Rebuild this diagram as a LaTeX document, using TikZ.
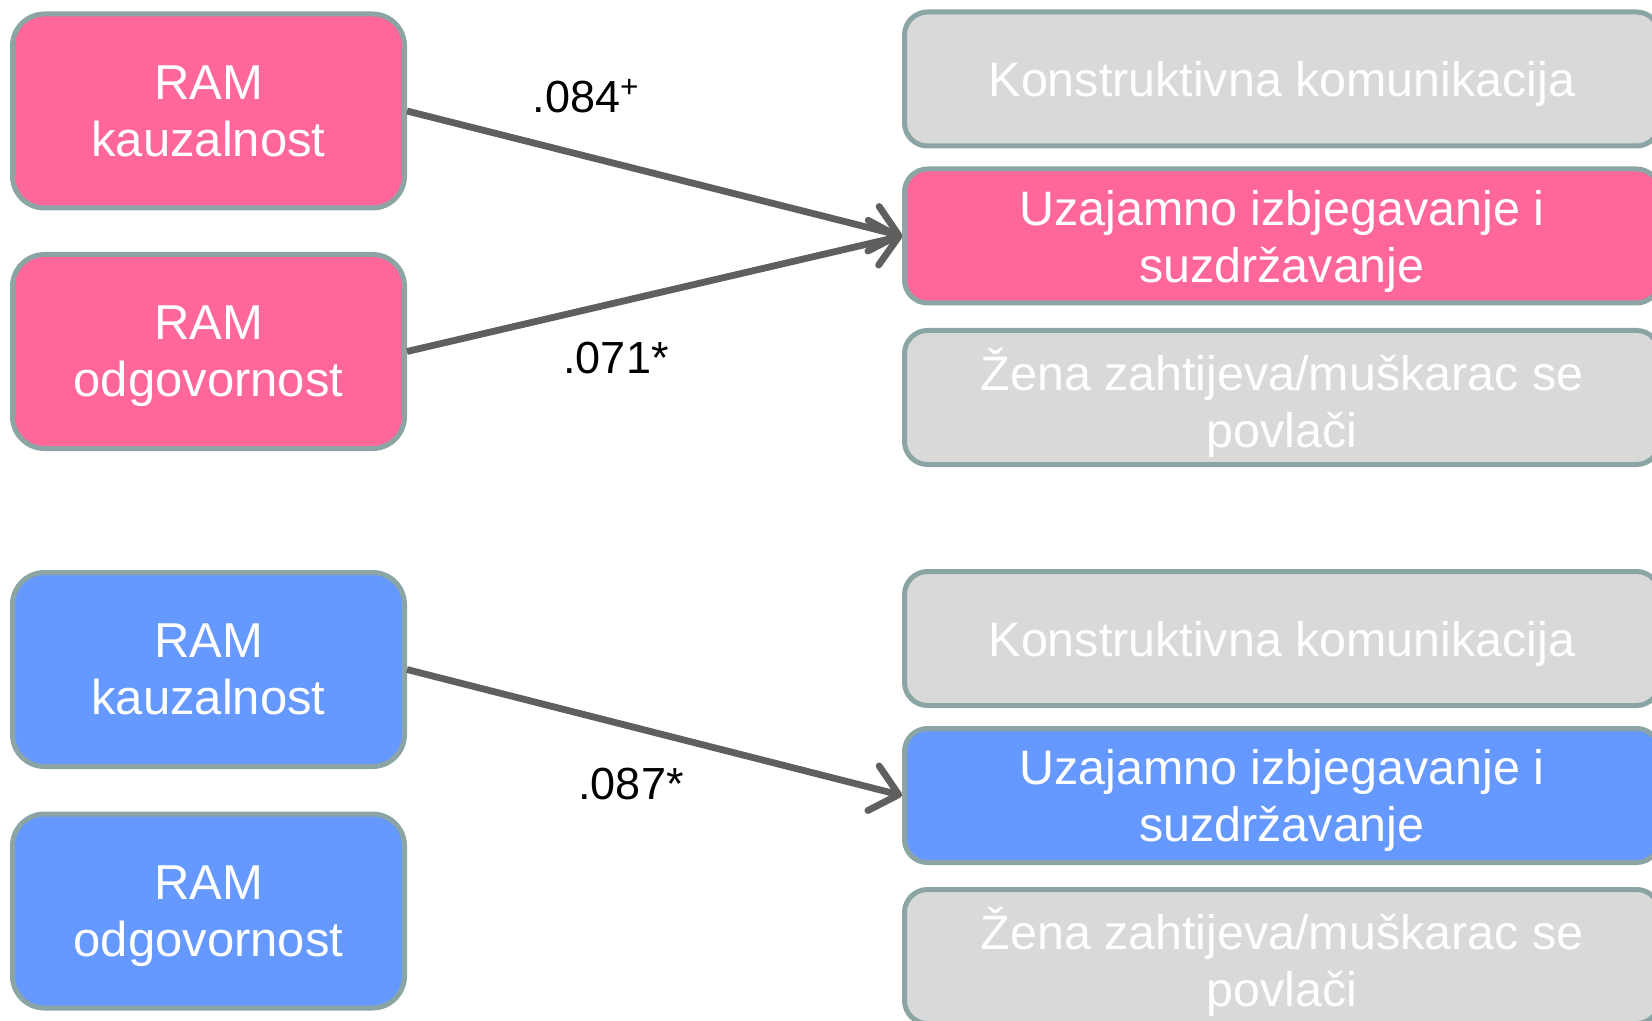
\documentclass[tikz,border=0pt]{standalone}
\usepackage{fontspec}
\setmainfont{Liberation Sans}
\usepackage{xcolor}
\usepackage{tikz}
\usetikzlibrary{arrows.meta}

\definecolor{ramPink}{HTML}{FF6699}
\definecolor{ramBlue}{HTML}{6699FF}
\definecolor{outGray}{HTML}{D9D9D9}
\definecolor{edgeGray}{HTML}{8BA5A5}
\definecolor{arrowGray}{HTML}{5F5F5F}

\begin{document}
\begin{tikzpicture}[x=0.5pt,y=-0.5pt,
  ram/.style={draw=edgeGray, line width=2.5pt, rounded corners=16pt,
    minimum width=196pt, minimum height=97pt, inner sep=0pt, text depth=0pt,
    text=white, align=center, font=\fontsize{24.5}{28.5}\selectfont},
  outcome/.style={draw=edgeGray, line width=2.5pt, rounded corners=11.5pt,
    minimum width=377.5pt, minimum height=67pt, inner sep=0pt, text depth=0pt,
    text=white, align=center, font=\fontsize{24.2}{28.5}\selectfont},
  link/.style={draw=arrowGray, line width=3.4pt,
    -{Straight Barb[length=13pt,width=23pt,round]}},
  coef/.style={anchor=base, font=\fontsize{22.5}{27}\selectfont}]
\useasboundingbox (0,0) rectangle (1652,1021);
% Upper group (pink)
\node[ram, fill=ramPink] (kauzA) at (208.5,111) {RAM\\kauzalnost};
\node[ram, fill=ramPink] (odgA) at (208.5,351.5) {RAM\\odgovornost};
\node[outcome, fill=outGray] (konA) at (1282,79) {Konstruktivna komunikacija};
\node[outcome, fill=ramPink] (izbA) at (1282,236) {Uzajamno izbjegavanje i\\suzdržavanje};
\node[outcome, fill=outGray] (zenA) at (1282,397.5) {Žena zahtijeva/muškarac se\\povlači};
% Lower group (blue)
\node[ram, fill=ramBlue] (kauzB) at (208.5,669.5) {RAM\\kauzalnost};
\node[ram, fill=ramBlue] (odgB) at (208.5,911) {RAM\\odgovornost};
\node[outcome, fill=outGray] (konB) at (1282,638.5) {Konstruktivna komunikacija};
\node[outcome, fill=ramBlue] (izbB) at (1282,795.5) {Uzajamno izbjegavanje i\\suzdržavanje};
\node[outcome, fill=outGray] (zenB) at (1282,956.5) {Žena zahtijeva/muškarac se\\povlači};
% Paths
\draw[link] (kauzA.east) -- (izbA.west);
\draw[link] (odgA.east) -- (izbA.west);
\draw[link] (kauzB.east) -- (izbB.west);
% Coefficients
\node[coef] (cKauzA) at (586,113) {.084\textsuperscript{+}};
\node[coef] (cOdgA) at (616,373) {.071*};
\node[coef] (cKauzB) at (631,799) {.087*};
\end{tikzpicture}
\end{document}
